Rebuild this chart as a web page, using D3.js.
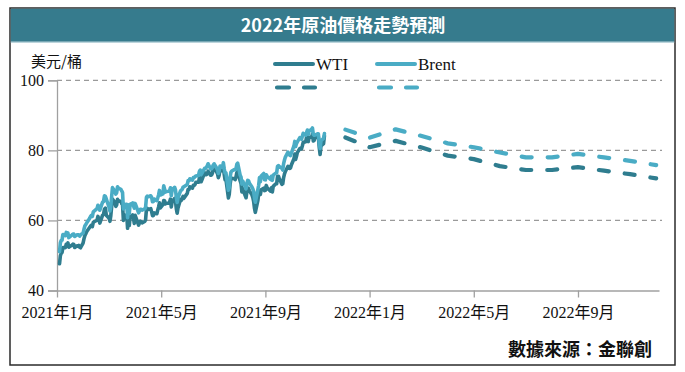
<!DOCTYPE html>
<html><head><meta charset="utf-8">
<script src="https://cdn.jsdelivr.net/npm/d3@7"></script>
<style>
html,body{margin:0;padding:0;background:#fff;}
svg{display:block;}
</style></head>
<body>
<svg id="chart" width="685" height="372"></svg>
<script>
// ---------- DATA ----------
const titleText = "2022年原油價格走勢預測";
const unitLabel = "美元/桶";
const sourceText = "數據來源：金聯創";
const seriesNames = ["WTI", "Brent"];
const yTicks = [40, 60, 80, 100];
const xTickMonths = [0, 4, 8, 12, 16, 20];
const xTickLabels = ["2021年1月", "2021年5月", "2021年9月", "2022年1月", "2022年5月", "2022年9月"];

const histDates = [
"2021-01-04","2021-01-05","2021-01-06","2021-01-07","2021-01-08","2021-01-11","2021-01-12","2021-01-13","2021-01-14","2021-01-15","2021-01-19","2021-01-20","2021-01-21","2021-01-22","2021-01-25","2021-01-26","2021-01-27","2021-01-28","2021-01-29",
"2021-02-01","2021-02-02","2021-02-03","2021-02-04","2021-02-05","2021-02-08","2021-02-09","2021-02-10","2021-02-11","2021-02-12","2021-02-16","2021-02-17","2021-02-18","2021-02-19","2021-02-22","2021-02-23","2021-02-24","2021-02-25","2021-02-26",
"2021-03-01","2021-03-02","2021-03-03","2021-03-04","2021-03-05","2021-03-08","2021-03-09","2021-03-10","2021-03-11","2021-03-12","2021-03-15","2021-03-16","2021-03-17","2021-03-18","2021-03-19","2021-03-22","2021-03-23","2021-03-24","2021-03-25","2021-03-26","2021-03-29","2021-03-30","2021-03-31",
"2021-04-01","2021-04-05","2021-04-06","2021-04-07","2021-04-08","2021-04-09","2021-04-12","2021-04-13","2021-04-14","2021-04-15","2021-04-16","2021-04-19","2021-04-20","2021-04-21","2021-04-22","2021-04-23","2021-04-26","2021-04-27","2021-04-28","2021-04-29","2021-04-30",
"2021-05-03","2021-05-04","2021-05-05","2021-05-06","2021-05-07","2021-05-10","2021-05-11","2021-05-12","2021-05-13","2021-05-14","2021-05-17","2021-05-18","2021-05-19","2021-05-20","2021-05-21","2021-05-24","2021-05-25","2021-05-26","2021-05-27","2021-05-28",
"2021-06-01","2021-06-02","2021-06-03","2021-06-04","2021-06-07","2021-06-08","2021-06-09","2021-06-10","2021-06-11","2021-06-14","2021-06-15","2021-06-16","2021-06-17","2021-06-18","2021-06-21","2021-06-22","2021-06-23","2021-06-24","2021-06-25","2021-06-28","2021-06-29","2021-06-30",
"2021-07-01","2021-07-02","2021-07-06","2021-07-07","2021-07-08","2021-07-09","2021-07-12","2021-07-13","2021-07-14","2021-07-15","2021-07-16","2021-07-19","2021-07-20","2021-07-21","2021-07-22","2021-07-23","2021-07-26","2021-07-27","2021-07-28","2021-07-29","2021-07-30",
"2021-08-02","2021-08-03","2021-08-04","2021-08-05","2021-08-06","2021-08-09","2021-08-10","2021-08-11","2021-08-12","2021-08-13","2021-08-16","2021-08-17","2021-08-18","2021-08-19","2021-08-20","2021-08-23","2021-08-24","2021-08-25","2021-08-26","2021-08-27","2021-08-30","2021-08-31",
"2021-09-01","2021-09-02","2021-09-03","2021-09-07","2021-09-08","2021-09-09","2021-09-10","2021-09-13","2021-09-14","2021-09-15","2021-09-16","2021-09-17","2021-09-20","2021-09-21","2021-09-22","2021-09-23","2021-09-24","2021-09-27","2021-09-28","2021-09-29","2021-09-30",
"2021-10-01","2021-10-04","2021-10-05","2021-10-06","2021-10-07","2021-10-08","2021-10-11","2021-10-12","2021-10-13","2021-10-14","2021-10-15","2021-10-18","2021-10-19","2021-10-20","2021-10-21","2021-10-22","2021-10-25","2021-10-26","2021-10-27","2021-10-28","2021-10-29",
"2021-11-01","2021-11-02","2021-11-03","2021-11-04","2021-11-05","2021-11-08","2021-11-09"
];

const wtiHist = [
47.62,49.93,50.63,50.83,52.24,52.25,53.21,52.91,53.57,52.36,52.98,53.24,53.13,52.27,52.77,52.61,52.85,52.34,52.20,
53.55,54.76,55.69,56.23,56.85,57.97,58.36,58.68,58.24,59.47,60.05,61.14,60.52,59.24,61.49,61.67,63.22,63.53,61.50,
60.64,59.75,61.28,63.83,66.09,65.05,64.01,64.44,66.02,65.61,65.39,64.80,64.60,60.00,61.42,61.55,57.76,61.18,58.56,60.97,61.56,60.55,59.16,
61.45,58.65,59.33,59.77,59.60,59.32,59.70,60.18,63.15,63.46,63.13,63.38,62.44,61.35,61.43,62.14,61.91,62.94,63.86,65.01,63.58,
64.49,65.69,65.63,64.71,64.90,64.92,65.28,66.08,63.82,65.37,66.27,65.49,63.36,62.05,63.58,66.05,65.76,66.21,66.85,66.32,
67.72,68.83,68.81,69.62,69.23,70.05,69.96,70.29,70.91,70.88,72.12,72.15,71.04,71.64,73.66,73.06,73.08,73.30,74.05,72.91,72.98,73.47,
75.23,75.16,73.37,72.20,72.94,74.56,74.10,75.25,73.13,71.65,71.81,66.42,67.42,70.30,71.91,72.07,71.91,71.65,72.39,73.62,73.95,
71.26,70.56,68.15,69.09,68.28,66.48,68.29,69.25,69.09,68.44,67.29,66.59,65.46,63.50,62.32,65.64,67.54,68.36,67.42,68.74,69.21,68.50,
68.59,69.99,69.29,68.35,69.30,68.14,69.72,70.45,70.46,72.61,72.61,71.97,70.29,70.49,72.23,73.30,73.98,75.45,75.29,74.83,75.03,
75.88,77.62,78.93,77.43,78.30,79.35,80.52,80.64,80.44,81.31,82.28,82.44,83.87,83.42,82.50,83.76,83.76,84.65,82.66,82.81,83.57,
84.05,83.91,80.86,78.81,81.27,81.93,84.15
];

const brentHist = [
51.09,53.60,54.30,54.38,55.99,55.66,56.58,56.06,56.42,55.10,55.90,56.08,56.10,55.41,55.88,55.91,55.81,55.53,55.88,
56.35,57.46,58.46,58.84,59.34,60.56,61.09,61.47,61.14,62.43,63.35,64.34,63.93,62.91,65.24,65.37,67.04,66.88,66.13,
63.69,62.70,64.07,66.74,69.36,68.24,67.52,67.90,69.63,69.22,68.88,68.39,68.00,63.28,64.53,64.62,60.79,64.41,61.95,64.57,64.98,64.14,63.54,
64.86,62.15,62.74,63.16,63.20,62.95,63.28,63.67,66.58,66.94,66.77,67.05,66.57,65.32,65.40,66.11,65.65,66.42,67.27,68.56,67.25,
67.56,69.88,68.96,68.09,68.28,68.32,68.55,69.32,67.05,68.71,69.46,68.71,66.66,65.11,66.44,68.46,68.65,68.87,69.46,69.63,
70.25,71.35,71.31,71.89,71.49,72.22,72.22,72.52,72.69,72.86,73.99,74.39,73.08,73.51,74.90,74.81,75.19,75.56,76.18,74.68,74.76,75.13,
75.84,76.17,74.53,73.43,74.12,75.55,75.16,76.49,74.76,73.47,73.59,68.62,69.35,72.23,73.79,74.10,74.50,74.48,74.74,76.05,76.33,
72.89,72.41,70.38,71.29,70.70,69.04,70.63,71.44,71.31,70.59,69.51,69.03,68.23,66.45,65.18,68.75,70.05,72.25,71.07,72.70,73.41,71.63,
71.59,73.03,72.61,71.69,72.60,71.45,72.92,73.51,73.60,75.46,75.67,75.34,74.92,74.36,76.19,77.25,78.09,79.53,79.09,78.64,78.52,
79.28,81.26,82.56,81.08,81.95,82.39,83.65,83.42,83.18,84.00,84.86,84.33,85.08,85.82,84.61,85.53,85.99,86.40,84.58,84.32,84.38,
84.71,84.72,81.99,80.54,82.74,83.43,84.78
];

const forecastMonths = ["2021-12","2022-01","2022-02","2022-03","2022-04","2022-05","2022-06","2022-07","2022-08","2022-09","2022-10","2022-11","2022-12"];
const wtiForecast   = [83.9, 80.9, 82.7, 80.8, 78.5, 77.5, 75.5, 74.4, 74.4, 75.2, 74.2, 73.2, 72.0];
const brentForecast = [86.1, 83.6, 86.0, 84.1, 82.0, 80.9, 79.4, 78.0, 78.0, 79.0, 78.0, 77.0, 75.8];

// ---------- HELPERS ----------
function monthIndex(str) {
  const p = str.split("-").map(Number);
  const y = p[0], m = p[1], d = p.length > 2 ? p[2] : 1;
  const dim = new Date(y, m, 0).getDate();
  return (y - 2021) * 12 + (m - 1) + (d - 1) / dim;
}

const colors = { WTI: "#2f7d8f", Brent: "#4aacc5" };
const latin = "'Liberation Serif','Noto Sans CJK TC',serif";
const cjk = "'Noto Sans CJK TC','Noto Sans CJK SC',sans-serif";

const svg = d3.select("#chart");

// frame
svg.append("rect").attr("x", 10).attr("y", 8).attr("width", 665).attr("height", 357)
  .attr("fill", "#fff").attr("stroke", "#2b2b2b").attr("stroke-width", 1.5);
svg.append("rect").attr("x", 10.75).attr("y", 8.75).attr("width", 663.5).attr("height", 33)
  .attr("fill", "#367b8d");
svg.append("line").attr("x1", 10.75).attr("x2", 674.25).attr("y1", 42.2).attr("y2", 42.2)
  .attr("stroke", "#9fc3cd").attr("stroke-width", 1);
svg.append("text").attr("x", 343).attr("y", 31.5).attr("text-anchor", "middle")
  .attr("font-family", cjk).attr("font-weight", "bold").attr("font-size", 18)
  .attr("fill", "#fff").text(titleText);

// scales
const x = d3.scaleLinear().domain([0, 23.11]).range([57, 659]);
const y = d3.scaleLinear().domain([40, 100]).range([290.5, 80.3]);

// gridlines
svg.append("g").selectAll("line").data(yTicks.filter(v => v > 40)).join("line")
  .attr("x1", 57).attr("x2", 662).attr("y1", d => y(d)).attr("y2", d => y(d))
  .attr("stroke", "#9a9a9a").attr("stroke-width", 1.3).attr("stroke-dasharray", "5,4");

// y axis
const yAxis = svg.append("g").attr("transform", "translate(57,0)")
  .call(d3.axisLeft(y).tickValues(yTicks).tickSize(9).tickPadding(4).tickFormat(d3.format("d")));
yAxis.select(".domain").attr("stroke", "#a0a0a0").attr("stroke-width", 1.3);
yAxis.selectAll(".tick line").attr("stroke", "#a0a0a0").attr("stroke-width", 1.3);
yAxis.selectAll("text").attr("font-family", latin).attr("font-size", 16).attr("fill", "#111");

// x axis
const xAxis = svg.append("g").attr("transform", "translate(0," + y(40) + ")")
  .call(d3.axisBottom(x).tickValues(xTickMonths).tickSize(7).tickSizeOuter(0).tickPadding(6)
    .tickFormat((d, i) => xTickLabels[i]));
xAxis.select(".domain").attr("stroke", "#a0a0a0").attr("stroke-width", 1.3);
xAxis.selectAll(".tick line").attr("stroke", "#a0a0a0").attr("stroke-width", 1.3);
xAxis.selectAll("text").attr("font-family", latin).attr("font-size", 16).attr("fill", "#111")
  .attr("dy", "0.9em");

// unit label
svg.append("text").attr("x", 31).attr("y", 67).attr("font-family", cjk)
  .attr("font-size", 15).attr("fill", "#111").text(unitLabel);

// historical lines
const hist = [
  { name: "WTI", vals: wtiHist },
  { name: "Brent", vals: brentHist }
];
const line = d3.line().x(d => x(d[0])).y(d => y(d[1]));
hist.forEach(s => {
  const pts = histDates.map((dt, i) => [monthIndex(dt), s.vals[i]]);
  svg.append("path").attr("d", line(pts)).attr("fill", "none")
    .attr("stroke", colors[s.name]).attr("stroke-width", 3.6)
    .attr("stroke-linejoin", "round").attr("stroke-linecap", "round");
});

// forecast lines
const fc = [
  { name: "WTI", vals: wtiForecast },
  { name: "Brent", vals: brentForecast }
];
fc.forEach(s => {
  const pts = forecastMonths.map((m, i) => [monthIndex(m), s.vals[i]]);
  svg.append("path").attr("d", line(pts)).attr("fill", "none")
    .attr("stroke", colors[s.name]).attr("stroke-width", 4.2)
    .attr("stroke-dasharray", "10,16").attr("stroke-linecap", "round")
    .attr("stroke-linejoin", "round").attr("stroke-dashoffset", -2);
});

// legend
const legendX = { WTI: 275, Brent: 377 };
seriesNames.forEach(n => {
  const lx = legendX[n];
  svg.append("line").attr("x1", lx).attr("x2", lx + 38).attr("y1", 64).attr("y2", 64)
    .attr("stroke", colors[n]).attr("stroke-width", 4).attr("stroke-linecap", "round");
  svg.append("text").attr("x", lx + 41).attr("y", 70).attr("font-family", latin)
    .attr("font-size", 17).attr("fill", "#111").text(n);
  svg.append("line").attr("x1", lx + 2).attr("x2", lx + 40).attr("y1", 87.5).attr("y2", 87.5)
    .attr("stroke", colors[n]).attr("stroke-width", 4.2).attr("stroke-linecap", "round")
    .attr("stroke-dasharray", "12,15");
});

// source
svg.append("text").attr("x", 652).attr("y", 356).attr("text-anchor", "end")
  .attr("font-family", cjk).attr("font-weight", "bold").attr("font-size", 18)
  .attr("fill", "#111").text(sourceText);
</script>
</body></html>
